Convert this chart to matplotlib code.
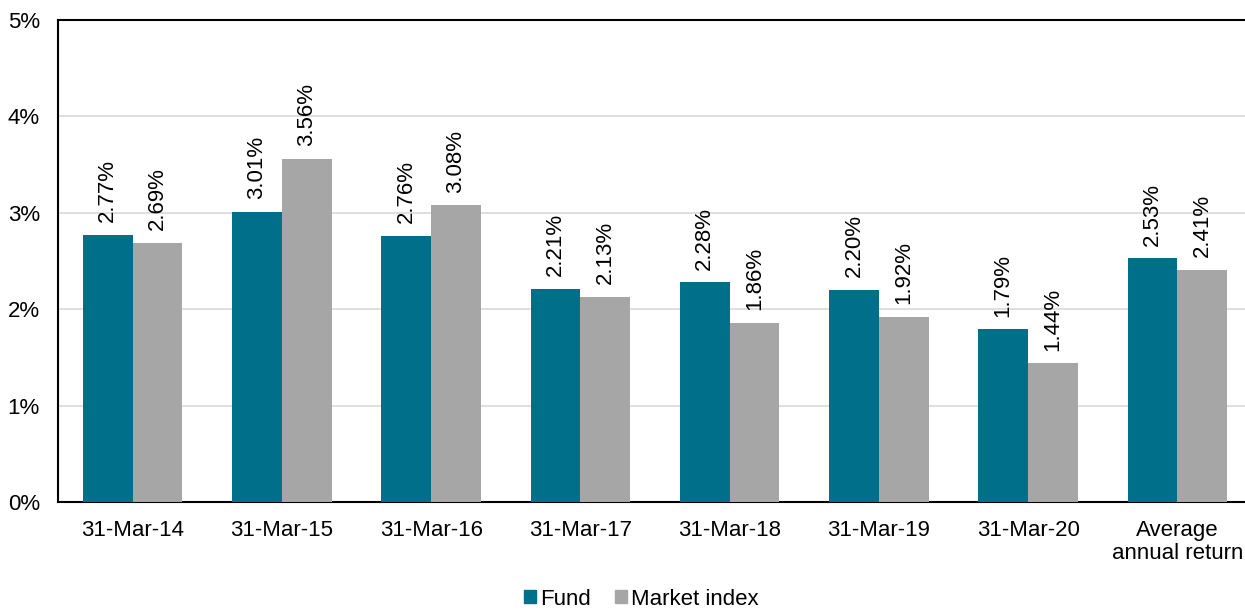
import matplotlib.pyplot as plt
import numpy as np
from matplotlib.patches import Patch
from matplotlib.ticker import MultipleLocator, FuncFormatter

categories = ["31-Mar-14", "31-Mar-15", "31-Mar-16", "31-Mar-17",
              "31-Mar-18", "31-Mar-19", "31-Mar-20", "Average\nannual return"]
fund = [2.77, 3.01, 2.76, 2.21, 2.28, 2.20, 1.79, 2.53]
market_index = [2.69, 3.56, 3.08, 2.13, 1.86, 1.92, 1.44, 2.41]

FUND_COLOR = "#00708A"
INDEX_COLOR = "#A6A6A6"

plt.rcParams["font.family"] = ["Liberation Sans", "DejaVu Sans"]

fig = plt.figure(figsize=(12.45, 6.1), dpi=100)
ax = fig.add_axes([58 / 1245, 1 - 502 / 610, 1194 / 1245, 482 / 610])

x = np.arange(len(categories))
width = 0.334
fund_bars = ax.bar(x - width / 2, fund, width, color=FUND_COLOR, zorder=3)
index_bars = ax.bar(x + width / 2, market_index, width, color=INDEX_COLOR, zorder=3)

for bars in (fund_bars, index_bars):
    for bar in bars:
        h = bar.get_height()
        ax.annotate(f"{h:.2f}%", (bar.get_x() + bar.get_width() / 2, h),
                    xytext=(0, 9), textcoords="offset points",
                    rotation=90, ha="center", va="bottom", fontsize=16)

ax.set_xlim(-0.5, len(categories) - 0.5)
ax.set_ylim(0, 5)
ax.yaxis.set_major_locator(MultipleLocator(1))
ax.yaxis.set_major_formatter(FuncFormatter(lambda v, _: f"{v:.0f}%"))
ax.set_xticks(x)
ax.set_xticklabels(categories, fontsize=16, linespacing=1.15)
ax.tick_params(axis="y", labelsize=16, length=0, pad=13)
ax.tick_params(axis="x", length=0, pad=13)
ax.grid(axis="y", color="#D9D9D9", linewidth=1.2, zorder=0)

for side in ("left", "top", "bottom"):
    ax.spines[side].set_linewidth(1.5)
    ax.spines[side].set_color("black")
ax.spines["right"].set_visible(False)

handles = [Patch(color=FUND_COLOR, label="Fund"),
           Patch(color=INDEX_COLOR, label="Market index")]
fig.legend(handles=handles, loc="lower center", bbox_to_anchor=(0.515, -0.032),
           ncol=2, frameon=False, fontsize=16, handlelength=0.55, handleheight=0.55,
           handletextpad=0.15, columnspacing=1.1)

fig.savefig("out.png", dpi=100)
